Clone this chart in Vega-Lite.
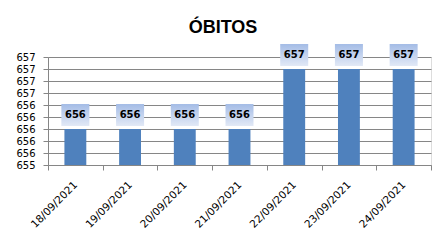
{
  "$schema": "https://vega.github.io/schema/vega-lite/v6.json",
  "width": 383,
  "height": 108,
  "autosize": {"type": "none"},
  "padding": {"left": 48, "top": 57, "right": 16, "bottom": 86},
  "background": "white",
  "title": {
    "text": "ÓBITOS",
    "font": "Liberation Sans",
    "fontSize": 18,
    "fontWeight": "bold",
    "color": "black",
    "anchor": "middle",
    "offset": 7,
    "dx": -16.5
  },
  "data": {
    "values": [
      {"data": "18/09/2021", "obitos": 656},
      {"data": "19/09/2021", "obitos": 656},
      {"data": "20/09/2021", "obitos": 656},
      {"data": "21/09/2021", "obitos": 656},
      {"data": "22/09/2021", "obitos": 657},
      {"data": "23/09/2021", "obitos": 657},
      {"data": "24/09/2021", "obitos": 657}
    ]
  },
  "encoding": {
    "x": {
      "field": "data",
      "type": "nominal",
      "sort": null,
      "scale": {"paddingInner": 0, "paddingOuter": 0},
      "axis": {
        "title": null,
        "labelAngle": -45,
        "labelAlign": "right",
        "labelBaseline": "middle",
        "labelPadding": 13,
        "labelFont": "DejaVu Sans",
        "labelFontSize": 10.5,
        "labelColor": "black",
        "domainColor": "#868686",
        "tickColor": "#868686",
        "tickSize": 5,
        "tickBand": "extent",
        "grid": false
      }
    },
    "y": {
      "field": "obitos",
      "type": "quantitative",
      "scale": {"domain": [655.4, 657.2], "nice": false, "zero": false},
      "axis": {
        "title": null,
        "values": [655.4, 655.6, 655.8, 656.0, 656.2, 656.4, 656.6, 656.8, 657.0, 657.2],
        "format": ".0f",
        "labelOverlap": false,
        "labelFont": "DejaVu Sans",
        "labelFontSize": 10,
        "labelColor": "black",
        "labelPadding": 8,
        "domainColor": "#868686",
        "tickColor": "#868686",
        "tickSize": 5,
        "grid": true,
        "gridColor": "#868686",
        "gridOpacity": 1
      }
    }
  },
  "layer": [
    {
      "mark": {"type": "bar", "width": {"band": 0.4}, "color": "#4F81BD"},
      "encoding": {
        "y2": {"datum": 655.4}
      }
    },
    {
      "mark": {
        "type": "bar",
        "width": 28,
        "yOffset": -25,
        "y2Offset": -3,
        "fill": {
          "gradient": "linear",
          "x1": 0, "y1": 0, "x2": 0, "y2": 1,
          "stops": [
            {"offset": 0, "color": "#a4bce6"},
            {"offset": 1, "color": "#e2e9f6"}
          ]
        }
      },
      "encoding": {
        "y2": {"field": "obitos"}
      }
    },
    {
      "mark": {
        "type": "text",
        "font": "DejaVu Sans",
        "fontSize": 10,
        "fontWeight": "bold",
        "color": "black",
        "baseline": "middle",
        "yOffset": -14
      },
      "encoding": {
        "text": {"field": "obitos", "type": "quantitative", "format": ".0f"}
      }
    }
  ]
}
